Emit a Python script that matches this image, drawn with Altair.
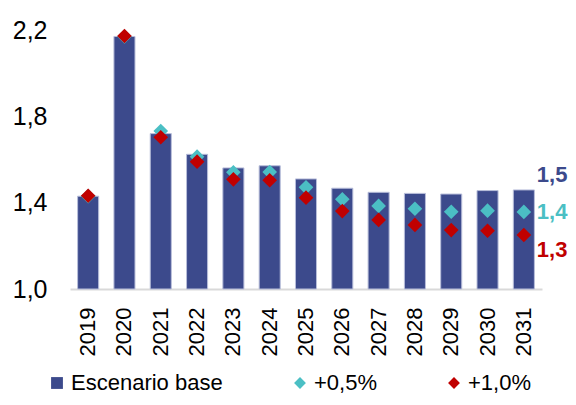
import altair as alt
import pandas as pd

years = ["2019", "2020", "2021", "2022", "2023", "2024", "2025",
         "2026", "2027", "2028", "2029", "2030", "2031"]
base = [1.43, 2.17, 1.72, 1.624, 1.561, 1.571, 1.51, 1.467, 1.448, 1.443, 1.44, 1.456, 1.459]
plus05 = [1.43, 2.17, 1.732, 1.613, 1.541, 1.542, 1.471, 1.416, 1.385, 1.372, 1.358, 1.363, 1.357]
plus10 = [1.432, 2.172, 1.703, 1.59, 1.508, 1.504, 1.423, 1.361, 1.32, 1.297, 1.273, 1.27, 1.25]
series_names = ["Escenario base", "+0,5%", "+1,0%"]
colors = ["#3C4A8C", "#4BBFC4", "#C00000"]
end_labels = ["1,5", "1,4", "1,3"]

FONT = "Liberation Sans"

bars_df = pd.DataFrame({"year": years, "value": base, "series": series_names[0]})
pts_df = pd.concat([
    pd.DataFrame({"year": years, "value": plus05, "series": series_names[1]}),
    pd.DataFrame({"year": years, "value": plus10, "series": series_names[2]}),
], ignore_index=True)

color_scale = alt.Scale(domain=series_names, range=colors)
shape_scale = alt.Scale(domain=series_names, range=["square", "diamond", "diamond"])

x_enc = alt.X("year:N", sort=years, title=None,
              scale=alt.Scale(paddingInner=0.42, paddingOuter=0.21),
              axis=alt.Axis(labelAngle=-90, labelFontSize=22, labelFont=FONT,
                            labelColor="#000000", labelPadding=18, ticks=False,
                            domainColor="#D9D9D9", domainWidth=2))
y_scale = alt.Scale(domain=[1.0, 2.2], zero=False, nice=False)
y_axis = alt.Axis(values=[1.0, 1.4, 1.8, 2.2], grid=False, domain=False, ticks=False,
                  labelFontSize=25, labelFont=FONT, labelColor="#000000", labelPadding=23,
                  labelExpr="replace(format(datum.value, '.1f'), '.', ',')")

legend = alt.Legend(title=None, orient="none", direction="horizontal", legendX=-24,
                    legendY=342, labelFontSize=22, labelFont=FONT, labelColor="#000000",
                    symbolSize=140, symbolStrokeWidth=0, columnPadding=66, labelOffset=3,
                    padding=0)

bars = alt.Chart(bars_df).mark_bar(stroke="#B8BEDA", strokeWidth=1).encode(
    x=x_enc,
    y=alt.Y("value:Q", scale=y_scale, axis=y_axis, title=None),
    y2=alt.datum(1.0),
    color=alt.Color("series:N", scale=color_scale, legend=legend),
)

points = alt.Chart(pts_df).mark_point(filled=True, size=215, opacity=1).encode(
    x=alt.X("year:N", sort=years),
    y=alt.Y("value:Q"),
    color=alt.Color("series:N", scale=color_scale, legend=legend),
    shape=alt.Shape("series:N", scale=shape_scale, legend=legend),
)

last = pd.DataFrame({"year": [years[-1]] * 3, "value": [base[-1], plus05[-1], plus10[-1]],
                     "label": end_labels, "series": series_names})

label_layers = []
for i, dy in enumerate([-15, 0, 15]):
    label_layers.append(
        alt.Chart(last.iloc[[i]]).mark_text(align="left", baseline="middle", dx=13, dy=dy,
                                            fontSize=22, fontWeight="bold", font=FONT,
                                            color=colors[i]).encode(
            x=alt.X("year:N", sort=years),
            y=alt.Y("value:Q"),
            text="label:N",
        )
    )

chart = alt.layer(bars, points, *label_layers).properties(
    width=472, height=259,
    autosize=alt.AutoSizeParams(type="none"),
    padding={"left": 62, "top": 22, "right": 26, "bottom": 108},
    background="#FFFFFF",
).configure_view(stroke="transparent", strokeWidth=0)

chart.save("out.html", embed_options={"renderer": "svg", "actions": False})
